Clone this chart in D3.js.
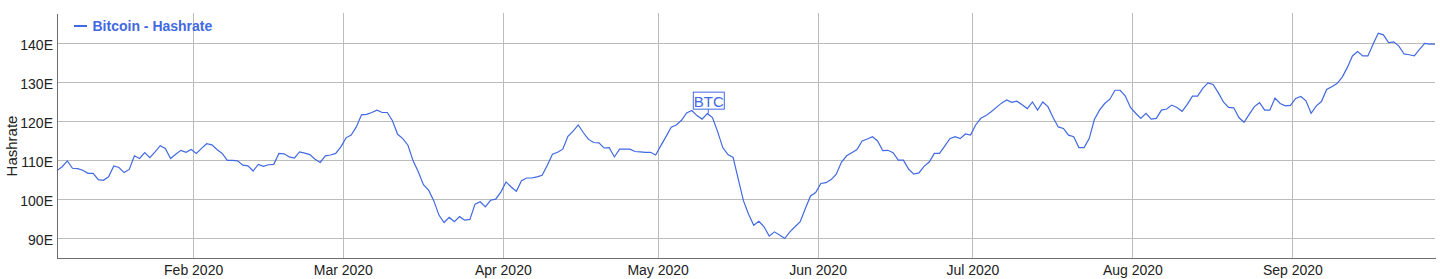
<!DOCTYPE html>
<html>
<head>
<meta charset="utf-8">
<script src="https://cdn.jsdelivr.net/npm/d3@7"></script>
<style>
body { margin: 0; background: #fff; }
svg { display: block; font-family: "Liberation Sans", Arial, Helvetica, sans-serif; }

.grid line { stroke: #bcbcbc; shape-rendering: crispEdges; }
.grid path { stroke-width: 0; }

.axis path { stroke: #6e6e6e; shape-rendering: crispEdges; }
.axis text { font-size: 14px; fill: #222; }

.line { fill: none; stroke: #4169e1; stroke-width: 1.2px; }
</style>
</head>
<body>
<div id="chart"></div>
<script>

// daily values, first point 5 Jan 2020 (afternoon)
var startDate = new Date(2020, 0, 5, 15);
var hashrate = [
  107.4, 108.4, 109.9, 108.0, 107.9, 107.5, 106.7, 106.7, 105.1, 104.9,
  105.8, 108.6, 108.2, 106.9, 107.7, 111.2, 110.5, 112.0, 110.7, 112.2,
  113.8, 113.1, 110.5, 111.6, 112.6, 112.1, 112.8, 111.8, 113.1, 114.3,
  114.0, 112.8, 111.8, 110.0, 110.0, 109.9, 108.8, 108.6, 107.3,
  109.0, 108.5, 108.9, 109.0, 111.8, 111.7, 110.9, 110.6, 112.2, 111.9,
  111.5, 110.3, 109.5, 111.2, 111.4, 111.8, 113.5, 115.8, 116.5, 118.6,
  121.7, 121.8, 122.3, 122.9, 122.3, 122.3, 120.2, 116.7, 115.6, 113.9,
  109.9, 107.1, 103.8, 102.4, 99.7, 96.0, 94.1, 95.4,
  94.3, 95.6, 94.7, 94.9, 98.8, 99.4, 98.1, 99.8, 100.1, 101.9,
  104.5, 103.2, 102.1, 104.8, 105.5, 105.5, 105.8, 106.2, 108.8, 111.6,
  112.1, 112.9, 116.2, 117.5, 119.1, 117.1, 115.4, 114.6, 114.5, 113.2,
  113.3, 110.9, 112.9, 112.9, 112.9, 112.3, 112.2,
  112.1, 112.1, 111.4, 113.8, 116.1, 118.5, 119.1, 120.3, 122.2, 122.8,
  121.5, 120.6, 122.0, 121.0, 117.4, 113.3, 111.5, 110.8, 105.2, 99.7,
  96.2, 93.4, 94.4, 93.0, 90.6, 91.7, 90.9, 90.0, 91.7, 93.0,
  94.3, 97.7, 100.9, 101.8, 104.1, 104.3, 105.1, 106.5,
  109.6, 111.2, 112.0, 112.8, 115.0, 115.5, 116.1, 115.0, 112.5, 112.6,
  112.0, 110.1, 110.1, 107.8, 106.5, 106.8, 108.5, 109.6, 111.8, 111.8,
  113.7, 115.6, 116.1, 115.6, 116.8, 116.5, 119.1, 120.8, 121.5, 122.5,
  123.6, 124.7, 125.5, 124.9, 125.2, 124.3, 123.3,
  125.0, 122.9, 125.0, 123.8, 121.0, 118.6, 118.2, 116.5, 116.1, 113.3,
  113.3, 115.6, 120.5, 122.9, 124.6, 125.7, 128.0, 128.0, 126.5, 123.6,
  122.1, 120.8, 122.1, 120.6, 120.8, 122.9, 123.2, 124.2, 123.6, 122.6,
  124.4, 126.5, 126.5, 128.5, 129.9, 129.5, 127.4, 125.0,
  123.6, 123.5, 121.0, 119.8, 121.8, 123.8, 124.8, 122.9, 122.9, 126.0,
  124.6, 124.0, 124.1, 125.9, 126.4, 125.3, 122.1, 124.0, 125.1, 128.2,
  128.9, 129.7, 131.3, 133.8, 136.8, 137.9, 136.8, 136.8, 139.8, 142.6,
  142.2, 140.2, 140.4, 139.3, 137.3, 137.1, 136.8, 138.5, 140.0, 139.8,
  139.8
];

var yTicks = [90, 100, 110, 120, 130, 140];
var yDomain = [85, 147.8];
var seriesName = "Bitcoin - Hashrate";
var yTitle = "Hashrate";

// flag on the chart
var annotations = [{ date: new Date(2020, 4, 10), label: "BTC" }];

// set the dimensions and margins of the graph
var W = 1440, H = 279;
var margin = {top: 13, right: 5, bottom: 21, left: 57},
    width = W - margin.left - margin.right,
    height = H - margin.top - margin.bottom;

var blue = "#4169e1";

var data = hashrate.map(function(v, i) {
  return { date: d3.timeDay.offset(startDate, i), value: v };
});

var x = d3.scaleTime().range([0, width]).domain(d3.extent(data, function(d) { return d.date; }));
var y = d3.scaleLinear().range([height, 0]).domain(yDomain);

var svg = d3.select("#chart").append("svg")
  .attr("width", W)
  .attr("height", H)
  .append("g")
  .attr("transform", "translate(" + margin.left + "," + margin.top + ")");

// Grid lines
svg.append("g")
  .attr("class", "grid")
  .attr("transform", "translate(0," + height + ")")
  .call(d3.axisBottom(x).ticks(d3.timeMonth.every(1)).tickSize(-height).tickFormat(""));

svg.append("g")
  .attr("class", "grid")
  .call(d3.axisLeft(y).tickValues(yTicks).tickSize(-width).tickFormat(""));

// the line
var valueline = d3.line()
  .x(function(d) { return x(d.date); })
  .y(function(d) { return y(d.value); });

svg.append("path")
  .datum(data)
  .attr("class", "line")
  .attr("d", valueline);

// Axes
svg.append("g")
  .attr("class", "axis")
  .attr("transform", "translate(0," + height + ")")
  .call(d3.axisBottom(x)
    .ticks(d3.timeMonth.every(1))
    .tickFormat(d3.timeFormat("%b %Y"))
    .tickSize(0)
    .tickSizeOuter(0)
    .tickPadding(7));

var yAxis = svg.append("g")
  .attr("class", "axis")
  .call(d3.axisLeft(y)
    .tickValues(yTicks)
    .tickFormat(function(d) { return d + "E"; })
    .tickSize(0)
    .tickSizeOuter(0)
    .tickPadding(4));
yAxis.selectAll("text").attr("dy", "0.4em");

svg.selectAll(".axis text").attr("font-family", null).attr("font-size", null);

// y title
svg.append("text")
  .attr("transform", "translate(" + (17 - margin.left) + "," + (146 - margin.top) + ") rotate(-90)")
  .attr("text-anchor", "middle")
  .style("font-size", "15px")
  .style("fill", "#222")
  .text(yTitle);

// Legend
svg.append("line")
  .attr("x1", 74 - margin.left).attr("x2", 87 - margin.left)
  .attr("y1", 26 - margin.top).attr("y2", 26 - margin.top)
  .attr("stroke", blue).attr("stroke-width", 2);
svg.append("text")
  .attr("x", 92.5 - margin.left).attr("y", 30.7 - margin.top)
  .style("font-size", "14px").style("font-weight", "bold")
  .style("fill", blue)
  .text(seriesName);

// Annotation flags
annotations.forEach(function(a) {
  var p = data.find(function(d) { return d3.timeDay.floor(d.date).getTime() === a.date.getTime(); });
  if (!p) return;
  var px = x(p.date), py = y(p.value);
  var g = svg.append("g");
  g.append("line")
    .attr("x1", px + 1).attr("x2", px + 1)
    .attr("y1", py - 4.5).attr("y2", py)
    .attr("stroke", blue).attr("stroke-width", 1);
  g.append("rect")
    .attr("x", px - 14).attr("y", py - 21.5)
    .attr("width", 31).attr("height", 17)
    .attr("fill", "#fff")
    .attr("stroke", blue).attr("stroke-width", 1);
  g.append("text")
    .attr("x", px + 1.5).attr("y", py - 6.5)
    .attr("text-anchor", "middle")
    .style("font-size", "15px")
    .style("fill", blue)
    .text(a.label);
});

</script>
</body>
</html>
